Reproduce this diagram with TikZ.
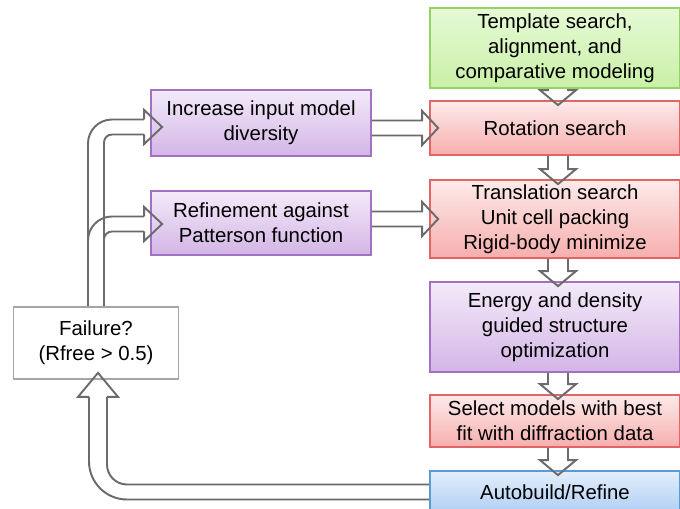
\documentclass[tikz,border=0pt]{standalone}
\usepackage{fontspec}
\setmainfont{Liberation Sans}
\usetikzlibrary{calc}

\definecolor{arrowgray}{HTML}{6B6B6B}
\definecolor{greenline}{HTML}{96D366}
\definecolor{greentop}{HTML}{E6FAD6}
\definecolor{greenbot}{HTML}{C9F0A6}
\definecolor{redline}{HTML}{E36464}
\definecolor{redtop}{HTML}{FDEAEA}
\definecolor{redbot}{HTML}{F7AEAE}
\definecolor{purpleline}{HTML}{A172C4}
\definecolor{purpletop}{HTML}{F4EAF9}
\definecolor{purplebot}{HTML}{D3B5E6}
\definecolor{blueline}{HTML}{5B9BD5}
\definecolor{bluetop}{HTML}{E4EFFC}
\definecolor{bluebot}{HTML}{AFCEF4}

\tikzset{
  box/.style={draw, line width=1pt, align=center, inner sep=0pt,
    font=\fontsize{11.6}{14.2}\selectfont},
  greenbox/.style={box, draw=greenline, top color=greentop, bottom color=greenbot},
  redbox/.style={box, draw=redline, top color=redtop, bottom color=redbot},
  purplebox/.style={box, draw=purpleline, top color=purpletop, bottom color=purplebot},
  bluebox/.style={box, draw=blueline, top color=bluetop, bottom color=bluebot},
  failbox/.style={box, draw=black!35, fill=white},
  blockline/.style={draw=arrowgray, line width=1.1pt, line join=miter}
}

\begin{document}
\begin{tikzpicture}[x=0.02cm, y=-0.02cm]
\clip (0,0) rectangle (680,509);
\fill[white] (0,0) rectangle (680,509);

% right column
\node (tmpl) [greenbox, minimum width=5cm, minimum height=1.6cm] at (555, 48) {Template search,\\ alignment, and\\ comparative modeling};
\node (rot) [redbox, minimum width=5cm, minimum height=1.08cm] at (555, 128) {Rotation search};
\node (trans) [redbox, minimum width=5cm, minimum height=1.56cm] at (555, 219) {Translation search\\ Unit cell packing\\ Rigid-body minimize};
\node (energy) [purplebox, minimum width=5cm, minimum height=1.8cm] at (555, 327) {Energy and density\\ guided structure\\ optimization};
\node (select) [redbox, minimum width=5cm, minimum height=1.04cm] at (555, 421) {Select models with best\\ fit with diffraction data};
\node (auto) [bluebox, minimum width=5cm, minimum height=0.84cm] at (555, 492) {Autobuild/Refine};

% left column
\node (inc) [purplebox, minimum width=4.4cm, minimum height=1.32cm] at (261, 123) {Increase input model\\ diversity};
\node (refine) [purplebox, minimum width=4.4cm, minimum height=1.28cm] at (261, 223) {Refinement against\\ Patterson function};
\node (fail) [failbox, minimum width=3.3cm, minimum height=1.44cm] at (96, 343) {Failure?\\ (Rfree > 0.5)};

% down arrows
\foreach \a/\b in {tmpl/rot, rot/trans, trans/energy, energy/select, select/auto}
  \draw[blockline] ($(\a.south)+(-7,0)$) -- ($(\b.north)+(-7,-10)$) -- ($(\b.north)+(-15,-10)$)
    -- ($(\b.north)+(3,5)$) -- ($(\b.north)+(21,-10)$) -- ($(\b.north)+(13,-10)$) -- ($(\a.south)+(13,0)$);

% side arrows
\foreach \a/\b in {inc/rot, refine/trans}
  \draw[blockline] ($(\a.east |- \b.west)+(0,-7.5)$) -- ($(\b.west)+(-7,-7.5)$) -- ($(\b.west)+(-7,-17)$)
    -- ($(\b.west)+(9,0)$) -- ($(\b.west)+(-7,17)$) -- ($(\b.west)+(-7,7.5)$) -- ($(\a.east |- \b.west)+(0,7.5)$);

% feedback to increase diversity
\draw[blockline, rounded corners=0.48cm] ($(fail.north)+(-8,0)$) |- ($(inc.west)+(-6,-3.5)$);
\draw[blockline, rounded corners=0.16cm] ($(fail.north)+(8,0)$) |- ($(inc.west)+(-6,11.5)$);
\draw[blockline] ($(inc.west)+(-6,-3.5)$) -- ($(inc.west)+(-6,-13)$) -- ($(inc.west)+(12,4)$)
  -- ($(inc.west)+(-6,21)$) -- ($(inc.west)+(-6,11.5)$);

% feedback to refinement
\draw[blockline, rounded corners=0.48cm] ($(fail.north |- refine.west)+(-8,17.5)$) |- ($(refine.west)+(-6,-6.5)$);
\draw[blockline, rounded corners=0.16cm] ($(fail.north |- refine.west)+(8,16.5)$) |- ($(refine.west)+(-6,8.5)$);
\draw[blockline] ($(refine.west)+(-6,-6.5)$) -- ($(refine.west)+(-6,-16)$) -- ($(refine.west)+(12,1)$)
  -- ($(refine.west)+(-6,18)$) -- ($(refine.west)+(-6,8.5)$);

% return from autobuild
\draw[blockline, rounded corners=0.4cm] ($(auto.west)+(0,-7.5)$) -| ($(fail.south)+(11,17)$);
\draw[blockline, rounded corners=0.76cm] ($(auto.west)+(0,7.5)$) -| ($(fail.south)+(-7,17)$);
\draw[blockline] ($(fail.south)+(11,17)$) -- ($(fail.south)+(22,17)$) -- ($(fail.south)+(2,-7)$)
  -- ($(fail.south)+(-18,17)$) -- ($(fail.south)+(-7,17)$);

\end{tikzpicture}
\end{document}
